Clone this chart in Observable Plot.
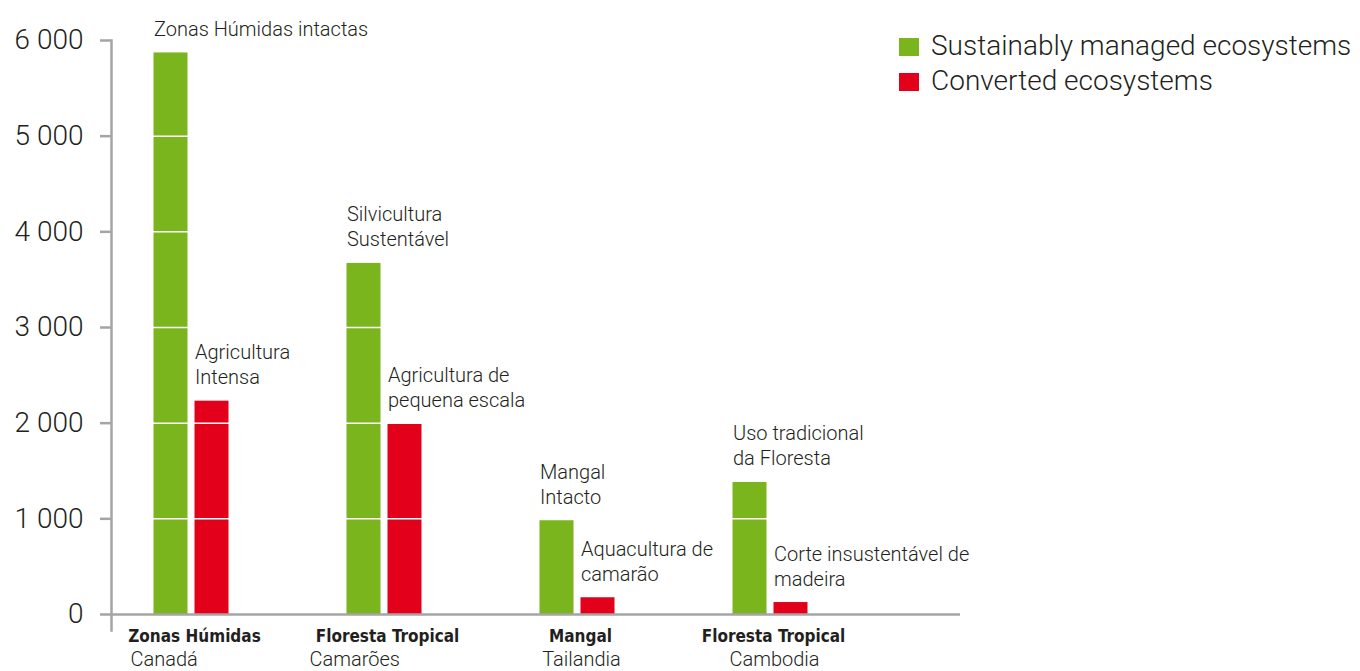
<!DOCTYPE html>
<html>
<head>
<meta charset="utf-8">
<script src="https://cdn.jsdelivr.net/npm/d3@7"></script>
<script src="https://cdn.jsdelivr.net/npm/@observablehq/plot@0.6"></script>
<style>
  html, body { margin: 0; padding: 0; background: #fff; }
  #wrap { position: relative; width: 1360px; height: 671px; overflow: hidden; font-family: Roboto, "Noto Sans", sans-serif; font-weight: 300; color: #231f20; }
  #legend { position: absolute; left: 899px; top: 28px; }
  .row { display: flex; align-items: center; height: 35px; font-size: 28px; }
  .sw { width: 20px; height: 18px; margin-right: 12px; margin-top: 3px; }
</style>
</head>
<body>
<div id="wrap"><div id="legend"></div></div>
<script>
const ecosystems = ["Zonas Húmidas", "Floresta Tropical", "Mangal", "Floresta Tropical"];
const countries = ["Canadá", "Camarões", "Tailandia", "Cambodia"];
const sustainableValues = [5870, 3670, 980, 1380];
const convertedValues = [2230, 1990, 175, 125];
const sustainableLabels = ["Zonas Húmidas intactas", "Silvicultura\nSustentável", "Mangal\nIntacto", "Uso tradicional\nda Floresta"];
const convertedLabels = ["Agricultura\nIntensa", "Agricultura de\npequena escala", "Aquacultura de\ncamarão", "Corte insustentável de\nmadeira"];
const seriesNames = ["Sustainably managed ecosystems", "Converted ecosystems"];
const seriesColors = ["#7ab51e", "#e2001a"];
const yTicks = [0, 1000, 2000, 3000, 4000, 5000, 6000];

const sustainable = countries.map((c, i) => ({country: c, value: sustainableValues[i], label: sustainableLabels[i]}));
const converted = countries.map((c, i) => ({country: c, value: convertedValues[i], label: convertedLabels[i]}));
const cats = countries.map((c, i) => ({country: c, ecosystem: ecosystems[i]}));

const fmt = d3.formatLocale({thousands: " ", grouping: [3], decimal: ","}).format(",d");
const ink = "#231f20";

const chart = Plot.plot({
  width: 1360,
  height: 671,
  marginLeft: 111,
  marginRight: 400,
  marginTop: 40,
  marginBottom: 57,
  style: {fontFamily: "Roboto, 'Noto Sans', sans-serif", fontWeight: 300, color: ink, background: "transparent"},
  x: {domain: countries, paddingInner: 0.8238, paddingOuter: 0.611, align: 0.265, axis: null},
  y: {domain: [0, 6000], axis: null},
  marks: [
    Plot.barY(sustainable, {x: "country", y: "value", fill: seriesColors[0], dx: -20.5}),
    Plot.barY(converted, {x: "country", y: "value", fill: seriesColors[1], dx: 20.5}),
    Plot.gridY(yTicks.slice(1), {stroke: "white", strokeOpacity: 1, strokeWidth: 1.5}),
    Plot.ruleY([0], {stroke: "#a5a5a5", strokeWidth: 2.5}),
    Plot.frame({anchor: "left", stroke: "#a5a5a5", strokeWidth: 2.5, insetBottom: -16}),
    Plot.axisY(yTicks, {tickSize: 11, tickPadding: 17, stroke: "#a5a5a5", strokeWidth: 2.5, fill: ink, fontSize: 28, tickFormat: fmt, label: null}),
    Plot.text(sustainable, {x: "country", y: "value", text: "label", textAnchor: "start", lineAnchor: "bottom", dx: -37.5, dy: -17, fontSize: 20, lineHeight: 1.25, fill: ink}),
    Plot.text(converted, {x: "country", y: "value", text: "label", textAnchor: "start", lineAnchor: "bottom", dx: 3.5, dy: -17, fontSize: 20, lineHeight: 1.25, fill: ink}),
    Plot.text(cats, {x: "country", frameAnchor: "bottom", text: "ecosystem", lineAnchor: "top", dy: 15, dx: 3, fontSize: 17, fontWeight: "bold", fontFamily: "'Liberation Sans Narrow', 'DejaVu Sans Condensed', sans-serif", fill: ink}),
    Plot.text(cats.slice(0, 1), {x: "country", frameAnchor: "bottom", text: "country", lineAnchor: "top", textAnchor: "start", dy: 37, dx: -61, fontSize: 20, fill: ink}),
    Plot.text(cats.slice(1, 2), {x: "country", frameAnchor: "bottom", text: "country", lineAnchor: "top", textAnchor: "start", dy: 37, dx: -75, fontSize: 20, fill: ink}),
    Plot.text(cats.slice(2), {x: "country", frameAnchor: "bottom", text: "country", lineAnchor: "top", dy: 37, dx: 4, fontSize: 20, fill: ink})
  ]
});

const wrap = document.getElementById("wrap");
wrap.insertBefore(chart, wrap.firstChild);

const legend = document.getElementById("legend");
seriesNames.forEach((name, i) => {
  const row = document.createElement("div");
  row.className = "row";
  const sw = document.createElement("div");
  sw.className = "sw";
  sw.style.background = seriesColors[i];
  const t = document.createElement("span");
  t.textContent = name;
  row.appendChild(sw);
  row.appendChild(t);
  legend.appendChild(row);
});
</script>
</body>
</html>
